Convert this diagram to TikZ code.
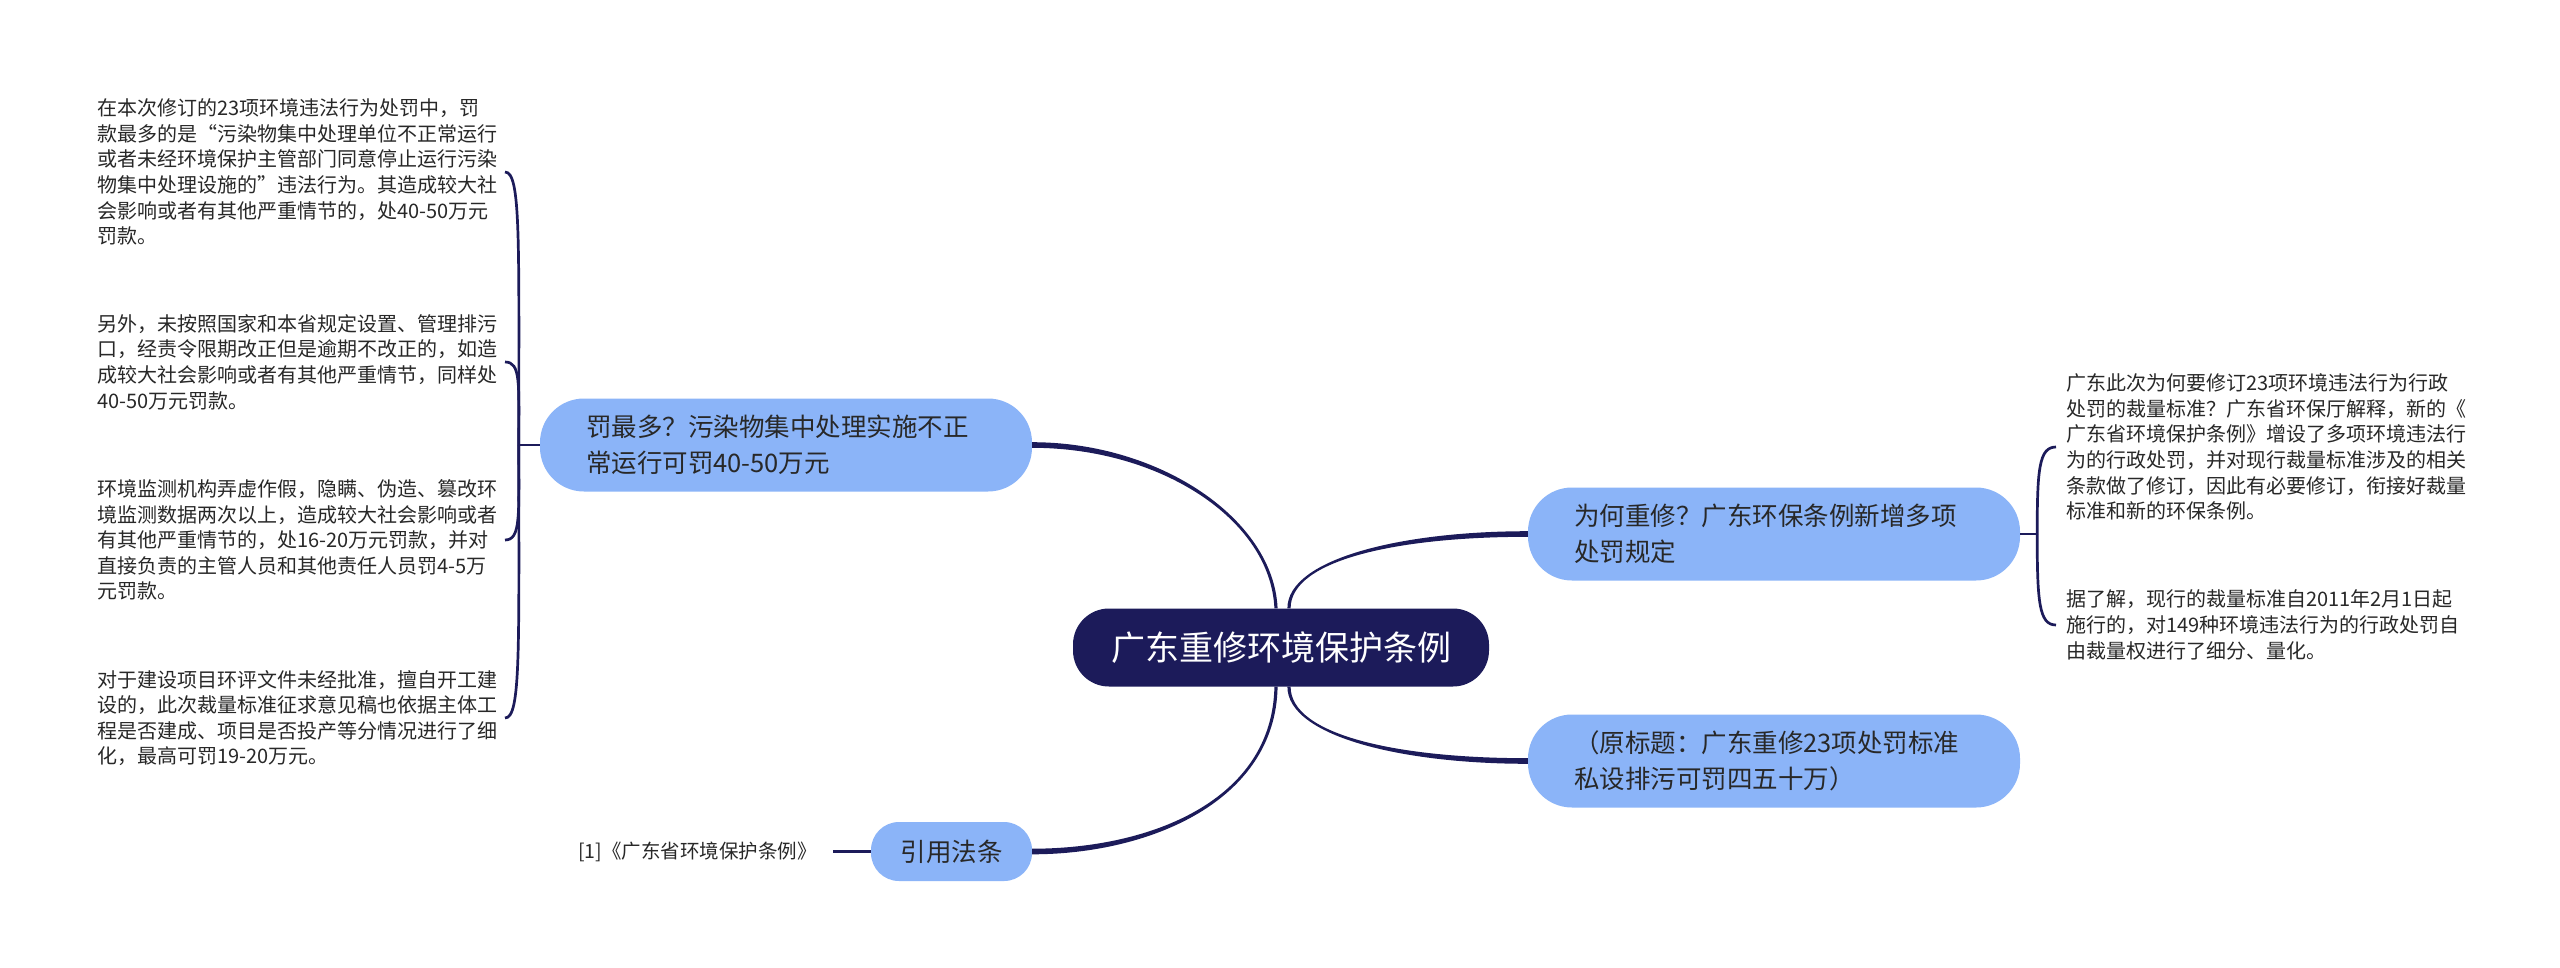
\documentclass[tikz,border=0pt]{standalone}
\usepackage{fontspec}
\setmainfont{Noto Sans CJK SC}
\usetikzlibrary{calc}
\definecolor{navy}{RGB}{28,27,90}
\definecolor{nodeblue}{RGB}{139,180,248}
\definecolor{txt}{RGB}{40,40,40}
\exhyphenpenalty=10000
\hyphenpenalty=10000
\begin{document}
\begin{tikzpicture}[x=1pt,y=-1pt,
  leaf/.style={inner sep=0pt, text width=420pt, align=left, anchor=west, text=txt, font=\fontsize{20}{25.6}\selectfont},
  topic/.style={fill=nodeblue, rounded corners=44pt, text width=400pt, inner xsep=46pt, inner ysep=0pt, minimum height=93pt, align=left, text=txt, font=\fontsize{25.5}{36}\selectfont},
  dtopic/.style={fill=nodeblue, rounded corners=28pt, minimum width=161pt, minimum height=59pt, inner sep=0pt, align=center, text=txt, font=\fontsize{25.5}{30}\selectfont},
  ctrnode/.style={fill=navy, rounded corners=36pt, minimum width=416pt, minimum height=78pt, inner sep=0pt, align=center, text=white, font=\fontsize{34}{40}\selectfont},
  reftext/.style={inner sep=0pt, anchor=east, text=txt, font=\fontsize{19.5}{24}\selectfont},
  bline/.style={draw=navy, line width=2.7pt},
  conn/.style={fill=navy}
]
\useasboundingbox (0,0) rectangle (2560,967);
\fill[white] (0,0) rectangle (2560,967);

% nodes
\node[ctrnode] (C0) at (1281,647.5) {广东重修环境保护条例};
\node[topic] (A) at (786,445) {罚最多？污染物集中处理实施不正\\常运行可罚40-50万元};
\node[topic] (B) at (1774,534) {为何重修？广东环保条例新增多项\\处罚规定};
\node[topic] (C) at (1774,761) {（原标题：广东重修23项处罚标准\\私设排污可罚四五十万）};
\node[dtopic] (D) at (951.5,851.5) {引用法条};
\node[reftext] (Rf) at (817,851.5) {[1]《广东省环境保护条例》};

% left leaves
\node[leaf] (L1) at (97,172) {在本次修订的23项环境违法行为处罚中，罚\\款最多的是“污染物集中处理单位不正常运行\\或者未经环境保护主管部门同意停止运行污染\\物集中处理设施的”违法行为。其造成较大社\\会影响或者有其他严重情节的，处40-50万元\\罚款。};
\node[leaf] (L2) at (97,362) {另外，未按照国家和本省规定设置、管理排污\\口，经责令限期改正但是逾期不改正的，如造\\成较大社会影响或者有其他严重情节，同样处\\40-50万元罚款。};
\node[leaf] (L3) at (97,540) {环境监测机构弄虚作假，隐瞒、伪造、篡改环\\境监测数据两次以上，造成较大社会影响或者\\有其他严重情节的，处16-20万元罚款，并对\\直接负责的主管人员和其他责任人员罚4-5万\\元罚款。};
\node[leaf] (L4) at (97,718) {对于建设项目环评文件未经批准，擅自开工建\\设的，此次裁量标准征求意见稿也依据主体工\\程是否建成、项目是否投产等分情况进行了细\\化，最高可罚19-20万元。};

% right leaves
\node[leaf] (R1) at (2066,447) {广东此次为何要修订23项环境违法行为行政\\处罚的裁量标准？广东省环保厅解释，新的《\\广东省环境保护条例》增设了多项环境违法行\\为的行政处罚，并对现行裁量标准涉及的相关\\条款做了修订，因此有必要修订，衔接好裁量\\标准和新的环保条例。};
\node[leaf] (R2) at (2066,625) {据了解，现行的裁量标准自2011年2月1日起\\施行的，对149种环境违法行为的行政处罚自\\由裁量权进行了细分、量化。};

% main connectors (tapered)
\fill[conn] ($(C0.north)+(-3.4,0)$) .. controls +(-4,-89) and +(128,0) .. ($(A.east)+(0,-2.8)$) -- ($(A.east)+(0,2.8)$) .. controls +(128,0) and +(-4,-89) .. ($(C0.north)+(-6.6,0)$) -- cycle;
\fill[conn] ($(C0.north)+(6.4,0)$) .. controls +(0,-49) and +(-128,0) .. ($(B.west)+(0,-2.8)$) -- ($(B.west)+(0,2.8)$) .. controls +(-128,0) and +(0,-49) .. ($(C0.north)+(9.6,0)$) -- cycle;
\fill[conn] ($(C0.south)+(9.6,0)$) .. controls +(0,49) and +(-128,0) .. ($(C.west)+(0,-2.8)$) -- ($(C.west)+(0,2.8)$) .. controls +(-128,0) and +(0,49) .. ($(C0.south)+(6.4,0)$) -- cycle;
\fill[conn] ($(C0.south)+(-3.4,0)$) .. controls +(-2,114) and +(118,0) .. ($(D.east)+(0,2.8)$) -- ($(D.east)+(0,-2.8)$) .. controls +(118,0) and +(-2,114) .. ($(C0.south)+(-6.6,0)$) -- cycle;

% left bracket
\coordinate (J1) at ($(A.west)+(-21,0)$);
\draw[bline] (A.west) -- (J1);
\draw[bline] (J1) .. controls +(0,-205) and +(16,0) .. ($(L1.west)+(408,0)$);
\draw[bline] (J1) .. controls +(0,-62) and +(16,0) .. ($(L2.west)+(408,0)$);
\draw[bline] (J1) .. controls +(0,71) and +(16,0) .. ($(L3.west)+(408,0)$);
\draw[bline] (J1) .. controls +(0,205) and +(16,0) .. ($(L4.west)+(408,0)$);

% right bracket
\coordinate (J2) at ($(B.east)+(17,0)$);
\draw[bline] (B.east) -- (J2);
\draw[bline] (J2) .. controls +(0,-65) and +(-17,0) .. ($(R1.west)+(-10,0)$);
\draw[bline] (J2) .. controls +(0,68) and +(-17,0) .. ($(R2.west)+(-10,0)$);

% reference line
\draw[bline, line width=3pt, shorten <=16pt] (Rf.east) -- (D.west);
\end{tikzpicture}
\end{document}
